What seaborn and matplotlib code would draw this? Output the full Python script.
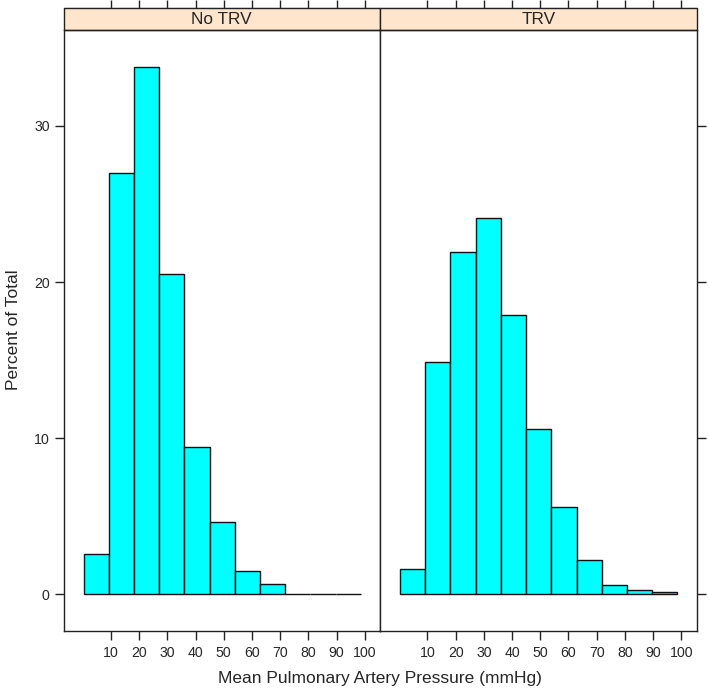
import numpy as np
import pandas as pd
import matplotlib
matplotlib.use("Agg")
import matplotlib.pyplot as plt
from matplotlib.patches import Rectangle
import seaborn as sns

# histogram data
groups = ["No TRV", "TRV"]
bin_breaks = [0.3, 9.24, 18.17, 27.11, 36.05, 44.98, 53.92,
              62.86, 71.79, 80.73, 89.66, 98.6]
no_trv_pct = [2.6, 27.0, 33.8, 20.5, 9.4, 4.6, 1.5, 0.65, 0.0, 0.0, 0.0]
trv_pct = [1.6, 14.9, 21.9, 24.1, 17.9, 10.6, 5.6, 2.2, 0.6, 0.25, 0.13]
x_ticks = [10, 20, 30, 40, 50, 60, 70, 80, 90, 100]
y_ticks = [0, 10, 20, 30]

breaks = np.array(bin_breaks)
mids = (breaks[:-1] + breaks[1:]) / 2
df = pd.DataFrame({
    "group": [groups[0]] * len(mids) + [groups[1]] * len(mids),
    "mid": np.concatenate([mids, mids]),
    "pct": no_trv_pct + trv_pct,
})

sns.set_style("ticks")
plt.rcParams["font.family"] = ["Liberation Sans", "DejaVu Sans"]

W, H = 709, 694
g = sns.FacetGrid(df, col="group", col_order=groups, sharex=True,
                  sharey=True, despine=False, height=5, aspect=0.6)
g.map_dataframe(sns.histplot, x="mid", weights="pct", bins=bin_breaks,
                color="#00FFFF", edgecolor="#111111", linewidth=1.0,
                alpha=1)
fig = g.figure
fig.set_size_inches(W / 100, H / 100)
fig.subplots_adjust(left=63.5 / W, right=696.5 / W,
                    bottom=1 - 631 / H, top=1 - 30 / H, wspace=0)

strip_frac = 22 / 601
axis_col = "#222222"

for i, ax in enumerate(g.axes.flat):
    ax.set_title("")
    ax.set_xlabel("")
    ax.set_ylabel("")
    ax.set_xlim(-6.8, 105.4)
    ax.set_ylim(-2.36, 36.15)
    ax.set_xticks(x_ticks)
    ax.set_xticklabels([str(t) for t in x_ticks])
    ax.set_yticks(y_ticks)
    for sp in ax.spines.values():
        sp.set_color(axis_col)
        sp.set_linewidth(1.0)
    ax.tick_params(axis="x", direction="out", length=6.5, width=1,
                   color=axis_col, labelsize=10.2, pad=4)
    if i == 0:
        ax.tick_params(axis="y", left=True, right=False, labelleft=True,
                       direction="out", length=6.5, width=1,
                       color=axis_col, labelsize=10.2, pad=3.5)
    else:
        ax.tick_params(axis="y", left=False, right=True, labelleft=False,
                       labelright=False, direction="out", length=6.5,
                       width=1, color=axis_col)

    # lattice-style strip with the panel name
    ax.add_patch(Rectangle((0, 1), 1, strip_frac, transform=ax.transAxes,
                           facecolor="#FFE5CC", edgecolor=axis_col,
                           linewidth=1.0, clip_on=False))
    ax.text(0.5, 1 + strip_frac / 2, groups[i], transform=ax.transAxes,
            ha="center", va="center", fontsize=12.4)

    # top tick marks sit above the strip
    top = ax.secondary_xaxis(1 + strip_frac)
    top.set_xticks(x_ticks)
    top.set_xticklabels([])
    top.tick_params(direction="out", length=6, width=1, color=axis_col)
    top.spines["top"].set_color(axis_col)

fig.text(380 / W, 1 - 678 / H, "Mean Pulmonary Artery Pressure (mmHg)",
         ha="center", va="center", fontsize=12.5)
fig.text(14 / W, 1 - 330 / H, "Percent of Total", ha="center",
         va="center", rotation=90, fontsize=12.5)

fig.savefig("out.png", dpi=100)
